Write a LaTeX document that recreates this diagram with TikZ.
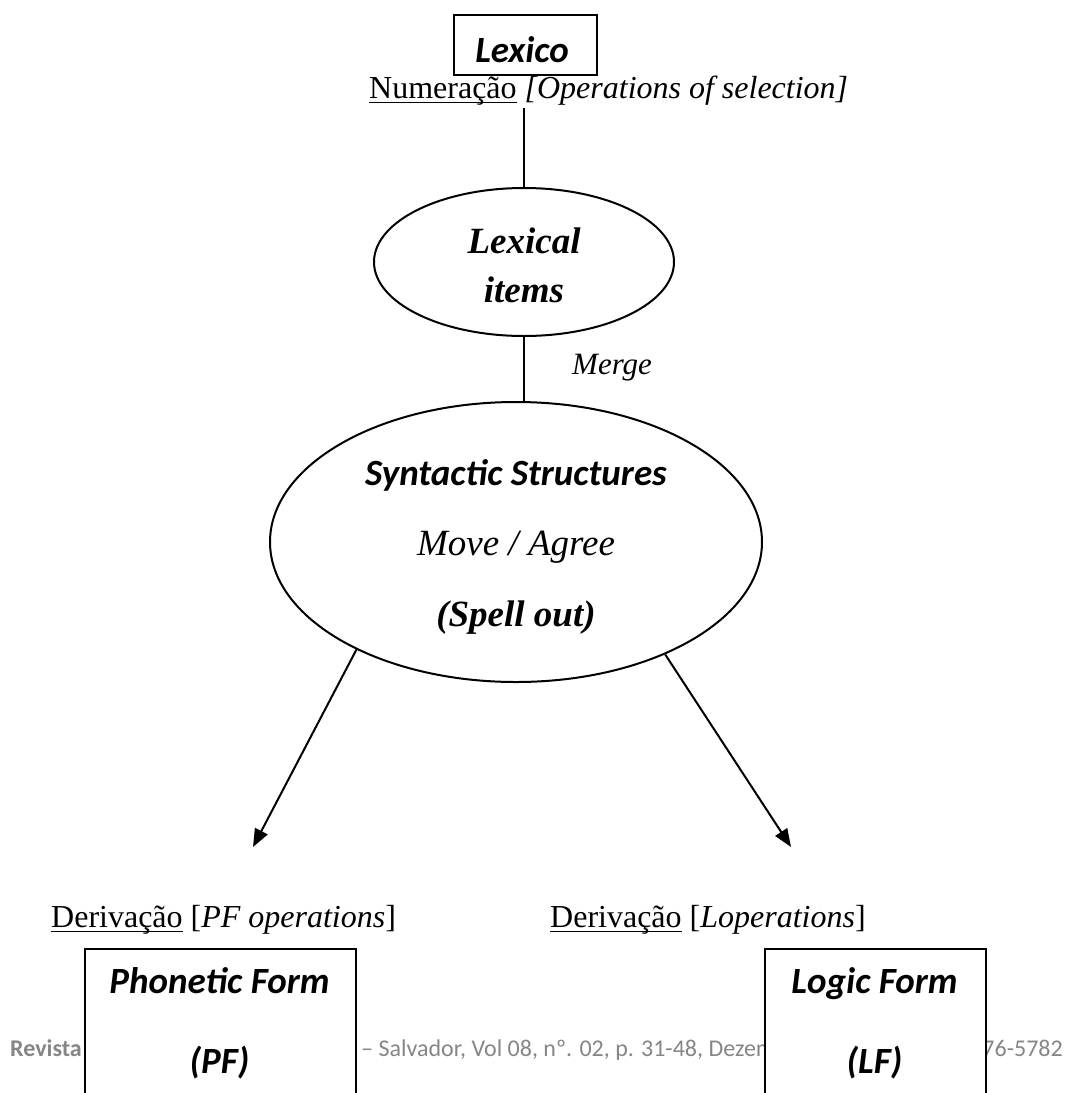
\documentclass[tikz,border=0pt]{standalone}
\usepackage{fontspec}
\setmainfont{Liberation Serif}
\newfontfamily\calfont{Carlito}
\usetikzlibrary{shapes.geometric,arrows.meta}
\newcommand{\myul}[1]{\setbox0\hbox{#1}\rlap{\rule[-0.17em]{\wd0}{0.06em}}\box0\relax}
\newcommand{\fs}[1]{\fontsize{#1}{#1}\selectfont}
\definecolor{footgray}{RGB}{134,134,134}
\begin{document}
\begin{tikzpicture}[x=1pt,y=-1pt,
  conn/.style={line width=2pt, black},
  arr/.style={conn, -{Triangle[length=18pt,width=14pt]}},
  boxstyle/.style={draw, line width=2pt, fill=white, inner sep=0pt, rectangle},
  ell/.style={draw, ellipse, line width=2pt, inner sep=0pt},
  lbl/.style={inner sep=0pt, anchor=base},
  lblw/.style={inner sep=0pt, anchor=base west},
  sansbi/.style={font=\calfont\bfseries\itshape\fs{37}},
  serifbi/.style={font=\bfseries\itshape\fs{37}},
  serifi/.style={font=\itshape\fs{37}},
  foot/.style={inner sep=0pt, text=footgray, font=\calfont\fs{24}},
]
\fill[white] (0,0) rectangle (1065,1093);
\useasboundingbox (0,0) rectangle (1065,1093);

% top box
\node[boxstyle, minimum width=143pt, minimum height=60pt] (lexicobox) at (525.5,45) {};
\node[lbl, sansbi] (lexico) at (522,62) {Lexico};
\node[lblw, font=\fs{32}] (numer) at (369,98) {\myul{Numeração} \textit{[Operations of selection]}};
\coordinate (numbelow) at (524,108);

% lexical items
\node[ell, minimum width=300pt, minimum height=148pt] (lexical) at (524,262) {};
\node[lbl, serifbi] (lexical1) at (524,253) {Lexical};
\node[lbl, serifbi] (lexical2) at (524,302) {items};
\draw[conn] (numbelow) -- (lexical.north);

% syntactic structures
\node[ell, minimum width=492pt, minimum height=280pt] (syn) at (516,542) {};
\node[lbl, sansbi] (syn1) at (516,485) {Syntactic Structures};
\node[lbl, serifi] (syn2) at (516,555) {Move / Agree};
\node[lbl, serifbi] (syn3) at (516,626) {(Spell out)};
\draw[conn] (lexical.south) -- (syn.north -| lexical.south);
\node[lblw, font=\itshape\fs{31}] (merge) at (572,374) {Merge};

% arrows
\coordinate (pfend) at (253,847);
\coordinate (lfend) at (791,847);
\draw[arr] (syn.214) -- (pfend);
\draw[arr] (syn.323) -- (lfend);

% derivation labels
\node[lblw, font=\fs{32}] (derpf) at (51,927) {\myul{Derivação} [\textit{PF operations}]};
\node[lblw, font=\fs{32}] (derlf) at (550,927) {\myul{Derivação} [\textit{Loperations}]};

% footer
\node[foot, anchor=base west, font=\calfont\bfseries\fs{24}] (foot1) at (10,1056) {Revista};
\node[foot, anchor=base west] (foot2) at (361,1056) {– Salvador, Vol 08, nº. 02, p. 31-48, Dezem};
\node[foot, anchor=base east] (foot3) at (1063,1056) {76-5782};

% bottom boxes
\node[boxstyle, minimum width=271pt, minimum height=160pt, anchor=north west] (pfbox) at (84,948) {};
\node[boxstyle, minimum width=221pt, minimum height=160pt, anchor=north west] (lfbox) at (764,948) {};
\node[lbl, sansbi] (pf1) at (219.5,993) {Phonetic Form};
\node[lbl, sansbi] (pf2) at (219.5,1073) {(PF)};
\node[lbl, sansbi] (lf1) at (874.5,993) {Logic Form};
\node[lbl, sansbi] (lf2) at (874.5,1073) {(LF)};
\end{tikzpicture}
\end{document}
